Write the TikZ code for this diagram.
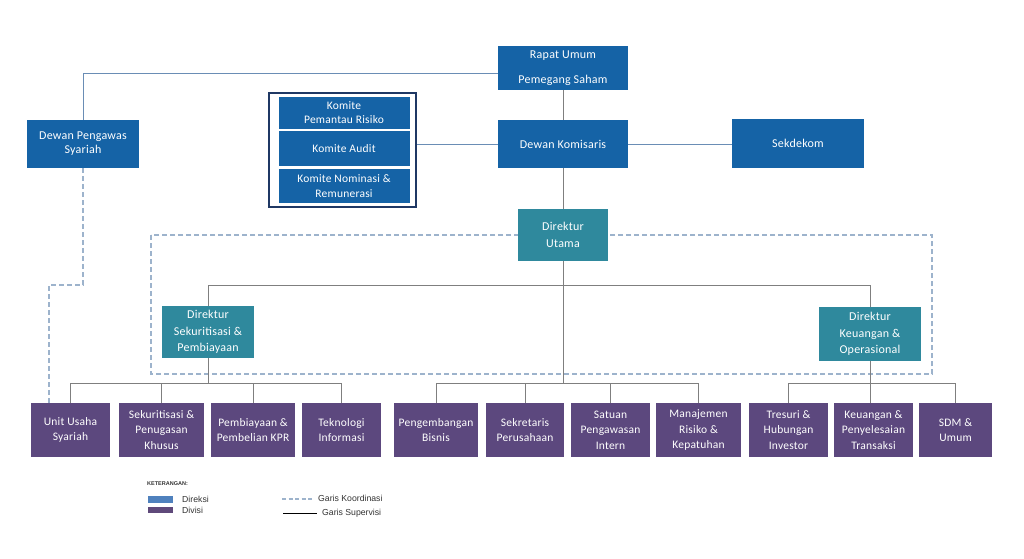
\documentclass[tikz,border=0pt]{standalone}
\usepackage{fontspec}
\setmainfont[LetterSpace=2]{Carlito}
\newfontfamily\legfont{Liberation Sans}
\definecolor{cblue}{HTML}{1563A6}
\definecolor{cteal}{HTML}{2F899D}
\definecolor{cdiv}{HTML}{5C487E}
\definecolor{cframe}{HTML}{1F3864}
\definecolor{csup}{HTML}{7F7F7F}
\definecolor{cbline}{HTML}{6A8DB5}
\definecolor{ckoord}{HTML}{9DB3CC}
\definecolor{clegdir}{HTML}{4F81BD}
\definecolor{clegdiv}{HTML}{5F497A}
\begin{document}
\begin{tikzpicture}[x=1pt,y=-1pt,
  boxbase/.style={text=white,align=center,inner sep=0pt,font=\fontsize{12}{15}\selectfont},
  boxblue/.style={boxbase,fill=cblue},
  boxteal/.style={boxbase,fill=cteal,font=\fontsize{12}{16.5}\selectfont},
  boxdiv/.style={boxbase,fill=cdiv,minimum height=54pt,font=\fontsize{11.5}{15.5}\selectfont},
  supline/.style={draw=csup,line width=0.9pt},
  bline/.style={draw=cbline,line width=0.9pt},
  koord/.style={draw=ckoord,line width=1.1pt,dash pattern=on 5pt off 3pt},
  legtext/.style={anchor=west,inner sep=0pt,text=black!80,font=\legfont\fontsize{8.7}{9}\selectfont}
]
\useasboundingbox (0,0) rectangle (1024,558);
\fill[white] (0,0) rectangle (1024,558);

% coordination frame
\draw[koord] (151,235) rectangle (932,374);

% top nodes
\node[boxblue,minimum width=130pt,minimum height=44pt] (rups) at (563,68) {Rapat Umum\\[10pt]Pemegang Saham};
\node[boxblue,minimum width=130pt,minimum height=48pt] (dekom) at (563,144) {Dewan Komisaris};
\node[boxblue,minimum width=132pt,minimum height=49pt] (sekdekom) at (798,143.5) {Sekdekom};
\node[boxblue,minimum width=112pt,minimum height=48pt,font=\fontsize{12}{14}\selectfont] (dps) at (83,144) {Dewan Pengawas\\Syariah};

% committees
\node[draw=cframe,line width=2.5pt,fill=white,minimum width=147pt,minimum height=114pt,inner sep=0pt] (kom) at (342.5,150) {};
\node[boxblue,minimum width=131pt,minimum height=32pt,font=\fontsize{11.5}{14}\selectfont] (kpr) at (344,113) {Komite\\Pemantau Risiko};
\node[boxblue,minimum width=131pt,minimum height=35pt,font=\fontsize{11.5}{14}\selectfont] (kaudit) at (344,148.5) {Komite Audit};
\node[boxblue,minimum width=131pt,minimum height=34pt,font=\fontsize{11.5}{14.5}\selectfont] (knom) at (344,186) {Komite Nominasi \&\\Remunerasi};

% directors
\node[boxteal,minimum width=90pt,minimum height=52pt] (du) at (563,235) {Direktur\\Utama};
\node[boxteal,minimum width=92pt,minimum height=52pt] (dsp) at (208,332) {Direktur\\Sekuritisasi \&\\Pembiayaan};
\node[boxteal,minimum width=102pt,minimum height=54pt] (dko) at (870,334) {Direktur\\Keuangan \&\\Operasional};

% divisions
\node[boxdiv,minimum width=79pt] (b1) at (70.5,430) {Unit Usaha\\Syariah};
\node[boxdiv,minimum width=85pt] (b2) at (161.5,430) {Sekuritisasi \&\\Penugasan\\Khusus};
\node[boxdiv,minimum width=84pt] (b3) at (253,430) {Pembiayaan \&\\Pembelian KPR};
\node[boxdiv,minimum width=79pt] (b4) at (341.5,430) {Teknologi\\Informasi};
\node[boxdiv,minimum width=84pt] (b5) at (436,430) {Pengembangan\\Bisnis};
\node[boxdiv,minimum width=78pt] (b6) at (525,430) {Sekretaris\\Perusahaan};
\node[boxdiv,minimum width=79pt] (b7) at (610.5,430) {Satuan\\Pengawasan\\Intern};
\node[boxdiv,minimum width=85pt] (b8) at (698.5,430) {Manajemen\\Risiko \&\\Kepatuhan};
\node[boxdiv,minimum width=79pt] (b9) at (788.5,430) {Tresuri \&\\Hubungan\\Investor};
\node[boxdiv,minimum width=79pt] (b10) at (873.5,430) {Keuangan \&\\Penyelesaian\\Transaksi};
\node[boxdiv,minimum width=73pt] (b11) at (955.5,430) {SDM \&\\Umum};

% helper coordinates
\coordinate (busA) at (0,285);
\coordinate (busB) at (0,383);
\coordinate (kbend) at (49,285);

% top connectors
\draw[bline] ([yshift=-5pt]rups.west) -| (dps.north);
\draw[supline] (rups.south) -- (dekom.north);
\draw[bline] (dekom.west) -- (dekom.west -| kom.east);
\draw[bline] (dekom.east) -- (dekom.east -| sekdekom.west);
\draw[supline] (dekom.south) -- (du.north);

% director connectors
\draw[supline] (dsp.north) -- (dsp.north |- busA) -- (dko.north |- busA) -- (dko.north);
\draw[supline] (du.south) -- (du.south |- busB);

% division buses
\draw[supline] (b1.north) -- (b1.north |- busB) -- (b4.north |- busB) -- (b4.north);
\draw[supline] (b2.north) -- (b2.north |- busB);
\draw[supline] (b3.north) -- (b3.north |- busB);
\draw[supline] (dsp.south) -- (dsp.south |- busB);

\draw[supline] (b5.north) -- (b5.north |- busB) -- (b8.north |- busB) -- (b8.north);
\draw[supline] (b6.north) -- (b6.north |- busB);
\draw[supline] (b7.north) -- (b7.north |- busB);

\draw[supline] (b9.north) -- (b9.north |- busB) -- (b11.north |- busB) -- (b11.north);
\draw[supline] (dko.south) -- (dko.south |- b10.north);

% coordination from DPS to UUS
\draw[koord] (dps.south) |- (kbend) -- (kbend |- b1.north);

% legend
\node[anchor=west,inner sep=0pt,text=black!80,font=\legfont\bfseries\fontsize{5.5}{6}\selectfont] (legtitle) at (147,484) {KETERANGAN:};
\node[fill=clegdir,minimum width=25pt,minimum height=6.5pt,inner sep=0pt] (swdir) at (160.5,499.5) {};
\node[fill=clegdiv,minimum width=25pt,minimum height=6.5pt,inner sep=0pt] (swdiv) at (160.5,510) {};
\node[legtext] (ldir) at (182,499) {Direksi};
\node[legtext] (ldiv) at (182,510) {Divisi};
\coordinate (lk1) at (282,499);
\coordinate (lk2) at (313,499);
\draw[draw=ckoord,line width=1.3pt,dash pattern=on 4pt off 2.5pt] (lk1) -- (lk2);
\node[legtext] (lkoord) at (318,498) {Garis Koordinasi};
\coordinate (ls1) at (283,513);
\coordinate (ls2) at (317,513);
\draw[black,line width=0.5pt] (ls1) -- (ls2);
\node[legtext] (lsup) at (322,513) {Garis Supervisi};
\end{tikzpicture}
\end{document}
